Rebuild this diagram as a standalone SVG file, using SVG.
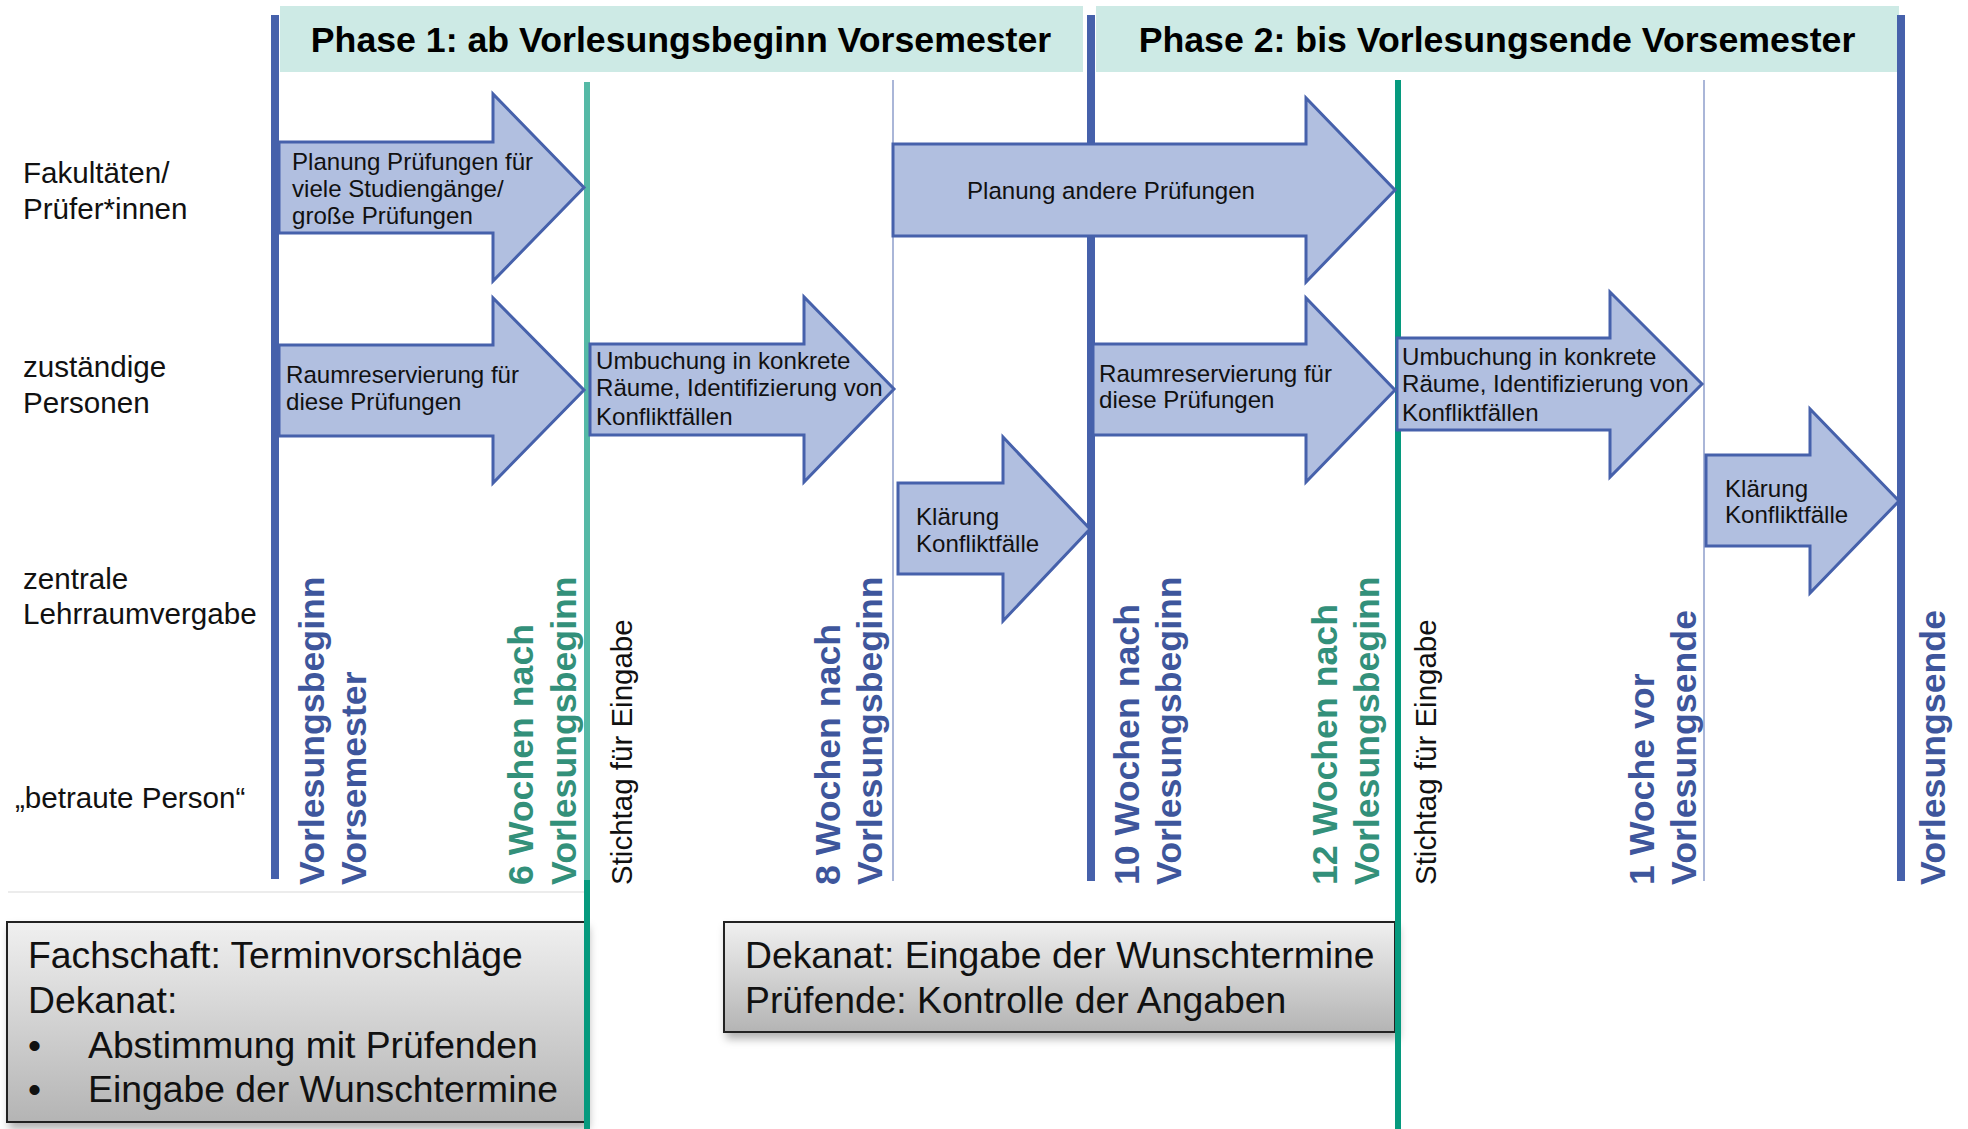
<svg xmlns="http://www.w3.org/2000/svg" width="1968" height="1129" viewBox="0 0 1968 1129">
<defs>
<linearGradient id="boxGrad" x1="0" y1="0" x2="0" y2="1">
<stop offset="0" stop-color="#f0f0f0"/>
<stop offset="1" stop-color="#b4b4b4"/>
</linearGradient>
<filter id="shadow" x="-5%" y="-10%" width="110%" height="130%">
<feDropShadow dx="3" dy="6" stdDeviation="4" flood-color="#000" flood-opacity="0.3"/>
</filter>
</defs>
<style>
.hdr{fill:#cdeae5}
.htxt{font-family:"Liberation Sans",Arial,sans-serif;font-weight:bold;font-size:35.7px;fill:#000;text-anchor:middle}
.row{font-family:"Liberation Sans",Arial,sans-serif;font-size:29.6px;fill:#111}
.arrow{fill:#b1bfe0;stroke:#4661ab;stroke-width:3;stroke-linejoin:miter}
.atxt{font-family:"Liberation Sans",Arial,sans-serif;font-size:24.1px;fill:#111}
.blue{stroke:#4661ab;stroke-width:8;fill:none}
.thin{stroke:#aab6d8;stroke-width:2;fill:none}
.green{stroke:#069a7e;stroke-width:6;fill:none}
.greenlt{stroke:#55b9a6;stroke-width:6;fill:none}
.lblB{font-family:"Liberation Sans",Arial,sans-serif;font-weight:bold;font-size:35.7px;fill:#3e569c}
.lblG{font-family:"Liberation Sans",Arial,sans-serif;font-weight:bold;font-size:35.7px;fill:#33907a}
.lblK{font-family:"Liberation Sans",Arial,sans-serif;font-size:29.5px;fill:#111}
.box{fill:url(#boxGrad);stroke:#222;stroke-width:2;filter:url(#shadow)}
.btxt{font-family:"Liberation Sans",Arial,sans-serif;font-size:37.3px;fill:#111}
</style>

<g id="phase1-header">
<rect class="hdr" x="280" y="6" width="803" height="66"/>
<text class="htxt" x="681" y="52">Phase 1: ab Vorlesungsbeginn Vorsemester</text>
</g>
<g id="phase2-header">
<rect class="hdr" x="1096" y="6" width="803" height="66"/>
<text class="htxt" x="1497" y="52">Phase 2: bis Vorlesungsende Vorsemester</text>
</g>

<g id="row-labels">
<text class="row" x="23" y="183">Fakultäten/</text>
<text class="row" x="23" y="219">Prüfer*innen</text>
<text class="row" x="23" y="377">zuständige</text>
<text class="row" x="23" y="413">Personen</text>
<text class="row" x="23" y="589">zentrale</text>
<text class="row" x="23" y="624">Lehrraumvergabe</text>
<text class="row" x="15" y="808">„betraute Person“</text>
</g>

<line x1="8" y1="892" x2="584" y2="892" stroke="#ececec" stroke-width="2"/>

<g id="fachschaft-box">
<rect class="box" x="7" y="922" width="578" height="200"/>
<text class="btxt" x="28" y="968">Fachschaft: Terminvorschläge</text>
<text class="btxt" x="28" y="1013">Dekanat:</text>
<text class="btxt" x="28" y="1058">•</text>
<text class="btxt" x="88" y="1058">Abstimmung mit Prüfenden</text>
<text class="btxt" x="28" y="1102">•</text>
<text class="btxt" x="88" y="1102">Eingabe der Wunschtermine</text>
</g>
<g id="dekanat-box">
<rect class="box" x="724" y="922" width="671" height="110"/>
<text class="btxt" x="745" y="968">Dekanat: Eingabe der Wunschtermine</text>
<text class="btxt" x="745" y="1013">Prüfende: Kontrolle der Angaben</text>
</g>

<g id="connectors">
<line class="thin" x1="893" y1="80" x2="893" y2="881"/>
<line class="thin" x1="1704" y1="80" x2="1704" y2="881"/>
<line class="blue" x1="275" y1="15" x2="275" y2="879"/>
<line class="blue" x1="1091" y1="15" x2="1091" y2="881"/>
<line class="blue" x1="1901" y1="15" x2="1901" y2="881"/>
<line class="greenlt" x1="587" y1="82" x2="587" y2="881"/>
<line class="green" x1="587" y1="880" x2="587" y2="1129"/>
<line class="green" x1="1398" y1="80" x2="1398" y2="1129"/>
</g>

<g id="arrow-planung-gross">
<path class="arrow" d="M279,142 H493 V94 L584,187.5 L493,281 V233 H279 Z"/>
<text class="atxt" x="292" y="170">Planung Prüfungen für</text>
<text class="atxt" x="292" y="197">viele Studiengänge/</text>
<text class="atxt" x="292" y="224">große Prüfungen</text>
</g>
<g id="arrow-raumreservierung-1">
<path class="arrow" d="M279,345 H493 V298 L584,390 L493,483 V436 H279 Z"/>
<text class="atxt" x="286" y="383">Raumreservierung für</text>
<text class="atxt" x="286" y="410">diese Prüfungen</text>
</g>
<g id="arrow-umbuchung-1">
<path class="arrow" d="M590,344 H804 V297 L894,389 L804,482 V435 H590 Z"/>
<text class="atxt" x="596" y="369">Umbuchung in konkrete</text>
<text class="atxt" x="596" y="396">Räume, Identifizierung von</text>
<text class="atxt" x="596" y="425">Konfliktfällen</text>
</g>
<g id="arrow-klaerung-1">
<path class="arrow" d="M898,483 H1003 V437 L1090,529 L1003,621 V574 H898 Z"/>
<text class="atxt" x="916" y="525">Klärung</text>
<text class="atxt" x="916" y="552">Konfliktfälle</text>
</g>
<g id="arrow-planung-andere">
<path class="arrow" d="M893,144 H1306 V98 L1395,190 L1306,282 V236 H893 Z"/>
<text class="atxt" x="1111" y="199" text-anchor="middle">Planung andere Prüfungen</text>
</g>
<g id="arrow-raumreservierung-2">
<path class="arrow" d="M1093,344 H1306 V298 L1395,390 L1306,482 V435 H1093 Z"/>
<text class="atxt" x="1099" y="382">Raumreservierung für</text>
<text class="atxt" x="1099" y="408">diese Prüfungen</text>
</g>
<g id="arrow-umbuchung-2">
<path class="arrow" d="M1397,338 H1610 V292 L1702,384 L1610,477 V430 H1397 Z"/>
<text class="atxt" x="1402" y="365">Umbuchung in konkrete</text>
<text class="atxt" x="1402" y="392">Räume, Identifizierung von</text>
<text class="atxt" x="1402" y="421">Konfliktfällen</text>
</g>
<g id="arrow-klaerung-2">
<path class="arrow" d="M1706,455 H1810 V409 L1899,501 L1810,593 V546 H1706 Z"/>
<text class="atxt" x="1725" y="497">Klärung</text>
<text class="atxt" x="1725" y="523">Konfliktfälle</text>
</g>

<g id="milestone-labels">
<text class="lblB" transform="translate(324,885) rotate(-90)">Vorlesungsbeginn<tspan x="0" y="42">Vorsemester</tspan></text>
<text class="lblG" transform="translate(533,885) rotate(-90)">6 Wochen nach<tspan x="0" y="43">Vorlesungsbeginn</tspan></text>
<text class="lblK" transform="translate(632,885) rotate(-90)">Stichtag für Eingabe</text>
<text class="lblB" transform="translate(840,885) rotate(-90)">8 Wochen nach<tspan x="0" y="42">Vorlesungsbeginn</tspan></text>
<text class="lblB" transform="translate(1139,885) rotate(-90)">10 Wochen nach<tspan x="0" y="42">Vorlesungsbeginn</tspan></text>
<text class="lblG" transform="translate(1337,885) rotate(-90)">12 Wochen nach<tspan x="0" y="42">Vorlesungsbeginn</tspan></text>
<text class="lblK" transform="translate(1436,885) rotate(-90)">Stichtag für Eingabe</text>
<text class="lblB" transform="translate(1654,885) rotate(-90)">1 Woche vor<tspan x="0" y="42">Vorlesungsende</tspan></text>
<text class="lblB" transform="translate(1945,885) rotate(-90)">Vorlesungsende</text>
</g>
</svg>
